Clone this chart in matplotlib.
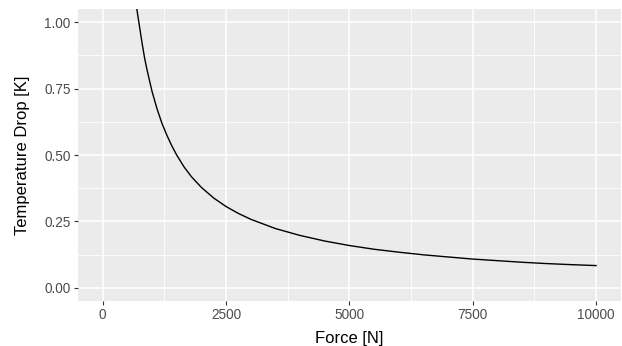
import matplotlib.pyplot as plt

# readings
force = [600, 650, 700, 750, 800, 850, 900, 950, 1000, 1100, 1200, 1300, 1400,
         1500, 1650, 1800, 2000, 2250, 2500, 2750, 3000, 3500, 4000, 4500, 5000,
         5500, 6000, 6500, 7000, 7500, 8000, 8500, 9000, 9500, 10000]
temp_drop = [1.20, 1.11, 1.04, 0.98, 0.92, 0.865, 0.82, 0.78, 0.74, 0.675, 0.62,
             0.575, 0.535, 0.50, 0.455, 0.418, 0.378, 0.338, 0.306, 0.28, 0.258,
             0.223, 0.197, 0.176, 0.159, 0.145, 0.134, 0.124, 0.116, 0.108, 0.102,
             0.096, 0.091, 0.087, 0.0835]

x_ticks = [0, 2500, 5000, 7500, 10000]
x_minor = [1250, 3750, 6250, 8750]
y_ticks = [0.0, 0.25, 0.5, 0.75, 1.0]
y_minor = [0.125, 0.375, 0.625, 0.875]

plt.rcParams['font.family'] = ['Liberation Sans', 'DejaVu Sans']

fig = plt.figure(figsize=(6.22, 3.46), dpi=100)
ax = fig.add_axes([0.1254, 0.130, 0.8726, 0.844])
ax.set_facecolor('#EBEBEB')

for v in x_minor:
    ax.axvline(v, color='white', lw=0.55, zorder=1)
for v in y_minor:
    ax.axhline(v, color='white', lw=0.55, zorder=1)
for v in x_ticks:
    ax.axvline(v, color='white', lw=1.1, zorder=1)
for v in y_ticks:
    ax.axhline(v, color='white', lw=1.1, zorder=1)

ax.plot(force, temp_drop, color='black', lw=1.0, zorder=3)

ax.set_xlim(-500, 10500)
ax.set_ylim(-0.05, 1.05)
ax.set_xticks(x_ticks)
ax.set_xticklabels([str(v) for v in x_ticks])
ax.set_yticks(y_ticks)
ax.set_yticklabels(['%.2f' % v for v in y_ticks])
ax.tick_params(colors='#333333', labelcolor='#4D4D4D', labelsize=9.8, length=2.8, width=0.8, pad=2.5)
for s in ax.spines.values():
    s.set_visible(False)

ax.set_xlabel('Force [N]', fontsize=12, labelpad=6)
ax.set_ylabel('Temperature Drop [K]', fontsize=12, labelpad=10)

fig.savefig('out.png', dpi=100)
